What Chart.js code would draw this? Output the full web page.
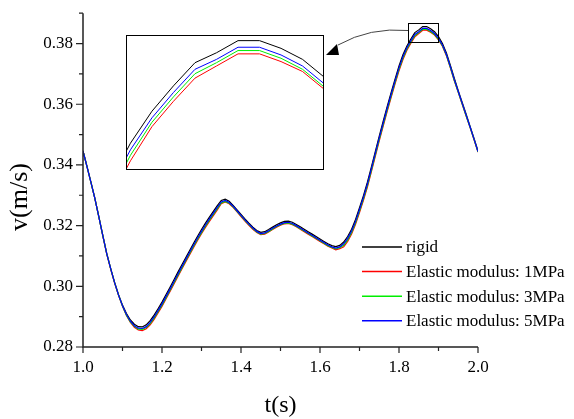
<!DOCTYPE html>
<html><head><meta charset="utf-8">
<script src="https://cdn.jsdelivr.net/npm/chart.js@4/dist/chart.umd.min.js"></script>
<style>
html,body{margin:0;padding:0;background:#fff;}
#wrap{position:relative;width:574px;height:419px;overflow:hidden;}
#main{position:absolute;left:0;top:0;}
#insetBox{position:absolute;left:126px;top:35px;width:198px;height:135px;border:1px solid #000;box-sizing:border-box;background:#fff;}
#inset{display:block;}
</style></head><body>
<div id="wrap"><canvas id="main" width="574" height="419"></canvas>
<div id="insetBox"><canvas id="inset" width="196" height="133"></canvas></div></div>
<script>
// ---------- data ----------
const T = [1.00,1.01,1.02,1.03,1.04,1.05,1.06,1.07,1.08,1.09,
1.10,1.11,1.12,1.13,1.14,1.15,1.16,1.17,1.18,1.19,
1.20,1.21,1.22,1.23,1.24,1.25,1.26,1.27,1.28,1.29,
1.30,1.31,1.32,1.33,1.34,1.35,1.36,1.37,1.38,1.39,
1.40,1.41,1.42,1.43,1.44,1.45,1.46,1.47,1.48,1.49,
1.50,1.51,1.52,1.53,1.54,1.55,1.56,1.57,1.58,1.59,
1.60,1.61,1.62,1.63,1.64,1.65,1.66,1.67,1.68,1.69,
1.70,1.71,1.72,1.73,1.74,1.75,1.76,1.77,1.78,1.79,
1.80,1.81,1.82,1.83,1.84,1.85,1.86,1.87,1.88,1.89,
1.90,1.91,1.92,1.93,1.94,1.95,1.96,1.97,1.98,1.99,2.00];

const RIGID = [.3446,.3395,.3343,.3290,.3230,.3169,.3109,.3059,.3013,.2972,
.2938,.2910,.2889,.2875,.2867,.2866,.2873,.2887,.2905,.2926,
.2948,.2972,.2996,.3021,.3046,.3070,.3094,.3118,.3142,.3165,
.3187,.3208,.3228,.3247,.3266,.3283,.3287,.3280,.3267,.3252,
.3237,.3222,.3208,.3195,.3184,.3178,.3180,.3187,.3195,.3203,
.3209,.3214,.3215,.3211,.3204,.3196,.3188,.3180,.3172,.3164,
.3156,.3148,.3140,.3134,.3131,.3135,.3146,.3164,.3188,.3220,
.3259,.3299,.3343,.3393,.3444,.3495,.3544,.3592,.3638,.3683,
.3726,.3763,.3792,.3815,.3836,.3845,.3856,.3856,.3849,.3839,
.3823,.3800,.3769,.3729,.3686,.3645,.3606,.3567,.3527,.3487,.3446];

const E1MPA = [.3446,.3395,.3343,.3290,.3230,.3167,.3107,.3057,.3011,.2970,
.2934,.2904,.2881,.2865,.2856,.2854,.2860,.2873,.2891,.2912,
.2934,.2958,.2982,.3007,.3032,.3056,.3080,.3104,.3128,.3151,
.3173,.3194,.3214,.3233,.3252,.3272,.3278,.3272,.3260,.3245,
.3230,.3215,.3201,.3188,.3177,.3170,.3172,.3179,.3187,.3195,
.3201,.3206,.3207,.3203,.3196,.3188,.3180,.3172,.3164,.3156,
.3148,.3140,.3132,.3126,.3120,.3124,.3130,.3148,.3172,.3204,
.3243,.3283,.3327,.3377,.3428,.3479,.3528,.3576,.3622,.3667,
.3710,.3747,.3778,.3801,.3822,.3833,.3844,.3844,.3837,.3828,
.3812,.3791,.3760,.3720,.3677,.3639,.3600,.3561,.3523,.3483,.3442];

const E3MPA = [.3446,.3395,.3343,.3290,.3230,.3168,.3108,.3058,.3012,.2971,
.2935,.2905,.2883,.2868,.2859,.2858,.2864,.2877,.2895,.2916,
.2938,.2962,.2986,.3011,.3036,.3060,.3084,.3108,.3132,.3155,
.3177,.3198,.3218,.3237,.3256,.3275,.3280,.3274,.3262,.3247,
.3232,.3217,.3203,.3190,.3179,.3172,.3174,.3181,.3189,.3197,
.3203,.3208,.3209,.3205,.3198,.3190,.3182,.3174,.3166,.3158,
.3150,.3142,.3134,.3128,.3123,.3127,.3135,.3153,.3177,.3209,
.3248,.3288,.3332,.3382,.3433,.3484,.3533,.3581,.3627,.3672,
.3715,.3752,.3782,.3805,.3826,.3836,.3847,.3847,.3840,.3830,
.3814,.3793,.3762,.3722,.3679,.3640,.3601,.3562,.3524,.3484,.3443];

const E5MPA = [.3446,.3395,.3343,.3290,.3230,.3168,.3108,.3058,.3012,.2971,
.2936,.2907,.2885,.2870,.2862,.2861,.2867,.2881,.2899,.2920,
.2942,.2966,.2990,.3015,.3040,.3064,.3088,.3112,.3136,.3159,
.3181,.3202,.3222,.3241,.3260,.3278,.3283,.3276,.3264,.3249,
.3234,.3219,.3205,.3192,.3181,.3174,.3176,.3183,.3191,.3199,
.3205,.3210,.3211,.3207,.3200,.3192,.3184,.3176,.3168,.3160,
.3152,.3144,.3136,.3130,.3126,.3130,.3140,.3158,.3182,.3214,
.3253,.3293,.3337,.3387,.3438,.3489,.3538,.3586,.3632,.3677,
.3720,.3757,.3786,.3809,.3830,.3839,.3850,.3850,.3843,.3833,
.3817,.3795,.3764,.3724,.3681,.3642,.3603,.3564,.3525,.3485,.3444];

const SERIES_LABELS = ['rigid','Elastic modulus: 1MPa','Elastic modulus: 3MPa','Elastic modulus: 5MPa'];
const SERIES_COLORS = ['#000000','#ff0000','#00ee00','#0000ff'];
const X_RANGE = [1.0, 2.0];
const Y_RANGE = [0.28, 0.39];
const X_TICK_STEP = 0.1;   // labels every 0.2
const Y_TICK_STEP = 0.01;  // labels every 0.02
const INSET_X = [1.8084, 1.8995];
const INSET_Y = [0.37396, 0.38602];
const ZOOM_BOX_T = [1.823, 1.899];
const ZOOM_BOX_V = [0.3807, 0.3869];
const X_TITLE = 't(s)';
const Y_TITLE = 'v(m/s)';

// ---------- chart ----------
const FONT = "'Liberation Serif','Times New Roman',serif";
Chart.defaults.font.family = FONT;
Chart.defaults.color = '#000';

const ALL = [RIGID, E1MPA, E3MPA, E5MPA];
function makeDatasets(width){
  return ALL.map((arr,i)=>({
    label: SERIES_LABELS[i],
    data: T.map((t,j)=>({x:t, y:arr[j]})),
    borderColor: SERIES_COLORS[i],
    borderWidth: width,
    pointRadius: 0,
    tension: 0,
    fill: false,
    order: 3 - i
  }));
}

const decor = {
  id: 'decor',
  afterDraw(chart){
    const {ctx, chartArea:a, scales:{x,y}} = chart;
    ctx.save();
    // axis lines
    ctx.strokeStyle = '#222';
    ctx.lineWidth = 1.5;
    ctx.beginPath();
    ctx.moveTo(a.left, y.getPixelForValue(Y_RANGE[1]));
    ctx.lineTo(a.left, a.bottom);
    ctx.lineTo(x.getPixelForValue(X_RANGE[1]), a.bottom);
    ctx.stroke();
    // ticks
    ctx.lineWidth = 1.2;
    ctx.beginPath();
    y.ticks.forEach(t=>{
      const py = y.getPixelForValue(t.value);
      const major = Math.round(t.value*100)%2===0;
      const len = major?7:4;
      ctx.moveTo(a.left-len, py); ctx.lineTo(a.left, py);
    });
    x.ticks.forEach(t=>{
      const px = x.getPixelForValue(t.value);
      const major = Math.round(t.value*10)%2===0;
      const len = major?6:4;
      ctx.moveTo(px, a.bottom); ctx.lineTo(px, a.bottom+len);
    });
    ctx.stroke();
    // axis titles
    ctx.fillStyle = '#000';
    ctx.textAlign = 'center';
    ctx.textBaseline = 'middle';
    ctx.font = '24px ' + FONT;
    ctx.fillText(X_TITLE, (a.left + x.getPixelForValue(X_RANGE[1]))/2, 406);
    ctx.save();
    ctx.font = '26px ' + FONT;
    ctx.translate(20, 197);
    ctx.rotate(-Math.PI/2);
    ctx.fillText(Y_TITLE, 0, 0);
    ctx.restore();
    // legend
    ctx.font = '17px ' + FONT;
    ctx.textAlign = 'left';
    ctx.textBaseline = 'middle';
    chart.data.datasets.forEach((ds,i)=>{
      const ly = 247 + i*24.6;
      ctx.strokeStyle = ds.borderColor;
      ctx.lineWidth = 1.5;
      ctx.beginPath(); ctx.moveTo(362, ly); ctx.lineTo(402, ly); ctx.stroke();
      ctx.fillStyle = '#000';
      ctx.fillText(ds.label, 406, ly+1);
    });
    // zoom rectangle
    const rx0 = x.getPixelForValue(ZOOM_BOX_T[0]), rx1 = x.getPixelForValue(ZOOM_BOX_T[1]);
    const ry0 = y.getPixelForValue(ZOOM_BOX_V[1]), ry1 = y.getPixelForValue(ZOOM_BOX_V[0]);
    ctx.strokeStyle = '#000'; ctx.lineWidth = 1;
    ctx.strokeRect(Math.round(rx0)+0.5, Math.round(ry0)+0.5, Math.round(rx1-rx0), Math.round(ry1-ry0));
    // arrow from rectangle to inset
    const insetRight = 323, insetTop = 36;
    const sx = Math.round(rx0), sy = ry0 + 0.42*(ry1-ry0);
    const ex = insetRight + 15, ey = insetTop + 9;
    ctx.strokeStyle = '#444'; ctx.lineWidth = 1;
    ctx.beginPath(); ctx.moveTo(sx, sy); ctx.quadraticCurveTo(370, 27, ex, ey); ctx.stroke();
    ctx.fillStyle = '#000';
    ctx.beginPath();
    ctx.moveTo(insetRight+14, insetTop+8);
    ctx.lineTo(insetRight+3, insetTop+19);
    ctx.lineTo(insetRight+16, insetTop+19);
    ctx.closePath(); ctx.fill();
    ctx.restore();
  }
};

new Chart(document.getElementById('main'), {
  type: 'line',
  data: { datasets: makeDatasets(1.2) },
  options: {
    responsive: false, animation: false,
    layout: { padding: { left: 0, right: 96, top: 10, bottom: 0 } },
    plugins: { legend: {display:false}, tooltip: {enabled:false} },
    scales: {
      x: {
        type: 'linear', min: X_RANGE[0], max: X_RANGE[1],
        grid: { display: false, drawTicks: true, tickLength: 6 },
        border: { display: false },
        ticks: {
          stepSize: X_TICK_STEP, autoSkip: false, maxRotation: 0, padding: 4,
          font: { size: 17 }, color: '#000',
          callback: v => (Math.round(v*10)%2===0 ? v.toFixed(1) : '')
        },
        afterFit: s => { s.height = 72; }
      },
      y: {
        type: 'linear', min: Y_RANGE[0], max: Y_RANGE[1],
        grid: { display: false, drawTicks: true, tickLength: 7 },
        border: { display: false },
        ticks: {
          stepSize: Y_TICK_STEP, autoSkip: false, padding: 3,
          font: { size: 17 }, color: '#000',
          callback: v => (Math.round(v*100)%2===0 && v < Y_RANGE[1]-0.001 ? v.toFixed(2) : '')
        },
        afterFit: s => { s.width = 83; }
      }
    }
  },
  plugins: [decor]
});

new Chart(document.getElementById('inset'), {
  type: 'line',
  data: { datasets: makeDatasets(1) },
  options: {
    responsive: false, animation: false,
    layout: { padding: 0 },
    plugins: { legend: {display:false}, tooltip: {enabled:false} },
    scales: {
      x: { type:'linear', display:false, min: INSET_X[0], max: INSET_X[1] },
      y: { type:'linear', display:false, min: INSET_Y[0], max: INSET_Y[1] }
    }
  }
});
</script>
</body></html>
